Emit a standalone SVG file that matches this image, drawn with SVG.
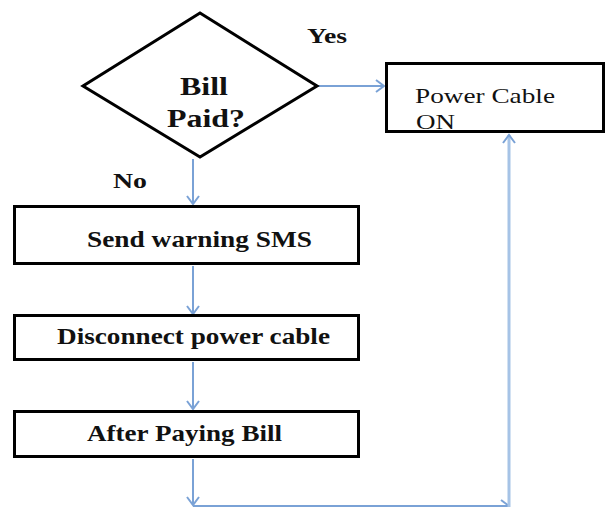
<svg xmlns="http://www.w3.org/2000/svg" width="608" height="510" viewBox="0 0 608 510">
  <style>
    .shape { fill: #ffffff; stroke: #000000; stroke-width: 3; stroke-linejoin: miter; }
    text { font-family: "Liberation Serif", "Times New Roman", Times, serif; fill: #111111; }
    .bold { font-weight: 700; }
    .wire { fill: none; stroke: #7aa2d6; stroke-width: 2; }
    .wire-wide { fill: none; stroke: #a6c3e6; stroke-width: 3; }
  </style>
  <defs>
    <marker id="chevron" markerUnits="userSpaceOnUse" markerWidth="12" markerHeight="14" refX="9" refY="7" orient="auto">
      <path d="M1,1 L9,7 L1,13" fill="none" stroke="#7aa2d6" stroke-width="2"/>
    </marker>
    <marker id="half-chevron" markerUnits="userSpaceOnUse" markerWidth="12" markerHeight="14" refX="9" refY="7" orient="auto">
      <path d="M1,1 L9,7" fill="none" stroke="#7aa2d6" stroke-width="2"/>
    </marker>
  </defs>

  <rect width="608" height="510" fill="#ffffff"/>

  <!-- connectors -->
  <g id="connectors">
    <line class="wire" x1="318" y1="86" x2="384" y2="86" marker-end="url(#chevron)"/>
    <line class="wire" x1="193" y1="159" x2="193" y2="204" marker-end="url(#chevron)"/>
    <line class="wire" x1="193" y1="266" x2="193" y2="314" marker-end="url(#chevron)"/>
    <line class="wire" x1="193" y1="362" x2="193" y2="409" marker-end="url(#chevron)"/>
    <line class="wire" x1="193" y1="459" x2="193" y2="505" marker-end="url(#chevron)"/>
    <line class="wire" x1="193" y1="506" x2="509" y2="506" marker-end="url(#half-chevron)"/>
    <line class="wire-wide" x1="509" y1="507" x2="509" y2="135" marker-end="url(#chevron)"/>
  </g>

  <!-- decision: Bill Paid? -->
  <g id="decision-bill-paid">
    <polygon class="shape" points="200,13 317,86 200,157 83,86"/>
    <text class="bold" font-family="Liberation Serif, serif" x="180" y="95" font-size="26" textLength="48" lengthAdjust="spacingAndGlyphs">Bill</text>
    <text class="bold" font-family="Liberation Serif, serif" x="167" y="127" font-size="26" textLength="78" lengthAdjust="spacingAndGlyphs">Paid?</text>
  </g>

  <!-- branch labels -->
  <g id="label-yes">
    <text class="bold" font-family="Liberation Serif, serif" x="307" y="43" font-size="21" textLength="40" lengthAdjust="spacingAndGlyphs">Yes</text>
  </g>
  <g id="label-no">
    <text class="bold" font-family="Liberation Serif, serif" x="113" y="188" font-size="22" textLength="34" lengthAdjust="spacingAndGlyphs">No</text>
  </g>

  <!-- process: Power Cable ON -->
  <g id="node-power-on">
    <rect class="shape" x="386.5" y="63.5" width="217" height="68"/>
    <text font-family="Liberation Serif, serif" x="415" y="103" font-size="22" textLength="140" lengthAdjust="spacingAndGlyphs">Power Cable</text>
    <text font-family="Liberation Serif, serif" x="416" y="129" font-size="22" textLength="39" lengthAdjust="spacingAndGlyphs">ON</text>
  </g>

  <!-- process: Send warning SMS -->
  <g id="node-send-sms">
    <rect class="shape" x="14.5" y="206.5" width="344" height="57"/>
    <text class="bold" font-family="Liberation Serif, serif" x="87" y="247" font-size="23" textLength="225" lengthAdjust="spacingAndGlyphs">Send warning SMS</text>
  </g>

  <!-- process: Disconnect power cable -->
  <g id="node-disconnect">
    <rect class="shape" x="14.5" y="315.5" width="344" height="44"/>
    <text class="bold" font-family="Liberation Serif, serif" x="57" y="344" font-size="23" textLength="273" lengthAdjust="spacingAndGlyphs">Disconnect power cable</text>
  </g>

  <!-- process: After Paying Bill -->
  <g id="node-after-paying">
    <rect class="shape" x="14.5" y="411.5" width="344" height="45"/>
    <text class="bold" font-family="Liberation Serif, serif" x="87" y="441" font-size="23" textLength="195" lengthAdjust="spacingAndGlyphs">After Paying Bill</text>
  </g>
</svg>
